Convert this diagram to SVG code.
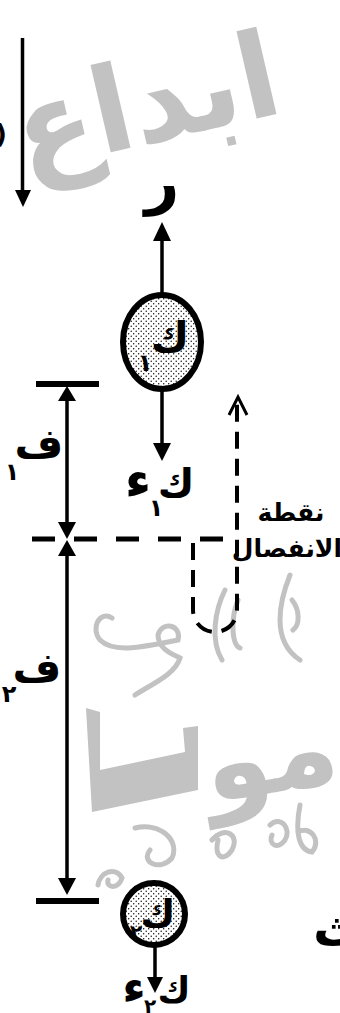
<svg xmlns="http://www.w3.org/2000/svg" width="340" height="1013" viewBox="0 0 340 1013">
<style>
.ln{stroke:#000;stroke-width:3.5;fill:none}
.hd{fill:#000;stroke:none}
.dash{stroke:#000;stroke-width:5;fill:none;stroke-dasharray:23 19}
.dash2{stroke:#000;stroke-width:4;fill:none;stroke-dasharray:17 10}
.bar{fill:#000}
.body{stroke:#000;stroke-width:6;fill:url(#dots)}
.ar{font-family:"DejaVu Sans","Noto Sans",sans-serif;font-weight:bold;fill:#000}
.wm{font-family:"DejaVu Sans","Noto Sans",sans-serif;font-weight:bold;fill:#c2c2c2}
.sw{stroke:#c2c2c2;stroke-width:5;fill:none;stroke-linecap:round}
</style>
<defs>
<pattern id="dots" width="5" height="5" patternUnits="userSpaceOnUse">
<rect width="5" height="5" fill="#fff"/>
<circle cx="1.2" cy="1.2" r="0.7" fill="#000"/>
<circle cx="3.7" cy="3.7" r="0.7" fill="#000"/>
</pattern>
</defs>
<rect width="340" height="1013" fill="#fff"/>
<g id="watermark">
<text class="wm" x="0" y="0" font-size="118" text-anchor="middle" transform="translate(155 142) rotate(-13) scale(0.98 1)">ابداع</text>
<text class="wm" x="0" y="0" font-size="108" text-anchor="middle" transform="translate(276 792) rotate(-10)">مو</text>
<path d="M86,708 L100,712 L100,770 L185,752 L183,728 L198,726 L198,790 L92,812 Z" fill="#c2c2c2"/>
<path class="sw" d="M112,618 C100,610 90,628 100,640 C115,655 150,645 178,640 C182,625 162,620 158,635 C158,650 175,655 180,658 C175,675 150,685 135,695"/>
<path class="sw" d="M225,590 C215,610 210,640 222,660 M238,600 C230,620 232,645 240,648"/>
<path class="sw" d="M290,575 C280,600 270,640 300,660 M292,600 C300,610 300,625 293,630"/>
<path class="sw" d="M135,828 C160,822 180,840 172,858 C160,872 140,862 150,850 M212,840 C225,825 240,835 232,850 C224,862 214,858 218,840 M270,825 C280,815 292,828 285,840 C278,850 268,845 272,835 M300,805 C296,825 296,850 312,852 C322,840 310,825 298,832"/>
<path class="sw" d="M98,885 C100,872 115,866 122,878 C118,890 106,888 108,880"/>
<text class="ar" x="-5" y="143" font-size="26">)</text>
</g>
<g id="connectors">
<line class="ln" x1="22.5" y1="38" x2="22.5" y2="192"/>
<polygon class="hd" points="15,190 31,190 23,207"/>
<line class="ln" x1="162" y1="240" x2="162" y2="293"/>
<polygon class="hd" points="153,241 171,241 162,222"/>
<line class="ln" x1="162" y1="390" x2="162" y2="445"/>
<polygon class="hd" points="153,443 171,443 162,461"/>
<line class="ln" x1="67" y1="398" x2="67" y2="524"/>
<polygon class="hd" points="58,401 76,401 67,386"/>
<polygon class="hd" points="58,522 76,522 67,539"/>
<line class="dash" x1="32" y1="539" x2="226" y2="539"/>
<line class="ln" x1="67" y1="554" x2="67" y2="880"/>
<polygon class="hd" points="58,556 76,556 67,540"/>
<polygon class="hd" points="58,878 76,878 67,895"/>
<path class="dash2" d="M193,543 V610 A22,22 0 0 0 237,610 V400"/>
<polyline points="229,415 238,397 247,415" fill="none" stroke="#000" stroke-width="3"/>
<line class="ln" x1="155" y1="944" x2="155" y2="979"/>
<polygon class="hd" points="147,977 163,977 155,993"/>
</g>
<g id="bar-top">
<rect class="bar" x="36" y="381" width="63" height="6"/>
</g>
<g id="bar-bottom">
<rect class="bar" x="36" y="898" width="63" height="6"/>
</g>
<g id="body1">
<ellipse class="body" cx="162" cy="342" rx="39" ry="47"/>
<text class="ar" x="170" y="352" font-size="42" text-anchor="middle">ك</text>
<text class="ar" x="145" y="371" font-size="24" text-anchor="middle">١</text>
</g>
<g id="label-r">
<text class="ar" x="162" y="202" font-size="60" text-anchor="middle">ر</text>
</g>
<g id="label-w1">
<text class="ar" x="176" y="497" font-size="40" text-anchor="middle">ك</text>
<text class="ar" x="156" y="516" font-size="24" text-anchor="middle">١</text>
<text class="ar" x="138" y="498" font-size="52" text-anchor="middle">ء</text>
</g>
<g id="label-f1">
<text class="ar" x="39" y="458" font-size="42" text-anchor="middle">ف</text>
<text class="ar" x="12" y="480" font-size="24" text-anchor="middle">١</text>
</g>
<g id="label-f2">
<text class="ar" x="37" y="682" font-size="42" text-anchor="middle">ف</text>
<text class="ar" x="9" y="702" font-size="24" text-anchor="middle">٢</text>
</g>
<g id="label-sep">
<text class="ar" x="291" y="521" font-size="25" text-anchor="middle">نقطة</text>
<text class="ar" x="342" y="557" font-size="25" text-anchor="end">الانفصال</text>
</g>
<g id="label-t">
<text class="ar" x="313" y="946" font-size="50">ث</text>
</g>
<g id="body2">
<circle class="body" cx="154" cy="914" r="31"/>
<text class="ar" x="158" y="927" font-size="38" text-anchor="middle">ك</text>
<text class="ar" x="136" y="939" font-size="20" text-anchor="middle">٢</text>
</g>
<g id="label-w2">
<text class="ar" x="174" y="1002" font-size="36" text-anchor="middle">ك</text>
<text class="ar" x="150" y="1013" font-size="20" text-anchor="middle">٢</text>
<text class="ar" x="134" y="1003" font-size="46" text-anchor="middle">ء</text>
</g>
</svg>
